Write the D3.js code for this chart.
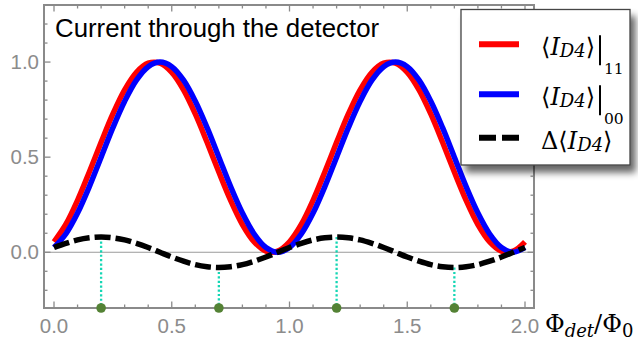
<!DOCTYPE html>
<html><head><meta charset="utf-8">
<script src="https://cdn.jsdelivr.net/npm/d3@7"></script>
<style>html,body{margin:0;padding:0;background:#fff;}svg{display:block;}</style>
</head><body>
<svg id="chart" width="638" height="347"></svg>
<script>
// ---- data ----
const xs = [0,0.05,0.10,0.15,0.20,0.25,0.30,0.35,0.40,0.45,0.50,0.55,0.60,0.65,0.70,0.75,0.80,0.85,0.90,0.95,
            1.00,1.05,1.10,1.15,1.20,1.25,1.30,1.35,1.40,1.45,1.50,1.55,1.60,1.65,1.70,1.75,1.80,1.85,1.90,1.95,2.00];
const red11 = [0.055,0.146,0.273,0.422,0.578,0.727,0.854,0.946,0.994,0.994,0.946,0.854,0.727,0.578,0.422,0.273,0.146,0.055,0.006,0.006,
               0.055,0.146,0.273,0.422,0.578,0.727,0.854,0.946,0.994,0.994,0.946,0.854,0.727,0.578,0.422,0.273,0.146,0.055,0.006,0.006,0.055];
const blue00 = [0.025,0.096,0.206,0.345,0.500,0.655,0.794,0.905,0.976,1.000,0.976,0.905,0.794,0.655,0.500,0.345,0.206,0.096,0.025,0.000,
                0.025,0.096,0.206,0.345,0.500,0.655,0.794,0.905,0.976,1.000,0.976,0.905,0.794,0.655,0.500,0.345,0.206,0.096,0.025,0.000,0.025];
const delta = [0.025,0.047,0.065,0.076,0.080,0.076,0.065,0.047,0.025,0.000,-0.025,-0.047,-0.065,-0.076,-0.080,-0.076,-0.065,-0.047,-0.025,0.000,
               0.025,0.047,0.065,0.076,0.080,0.076,0.065,0.047,0.025,0.000,-0.025,-0.047,-0.065,-0.076,-0.080,-0.076,-0.065,-0.047,-0.025,0.000,0.025];
const markX = [0.2, 0.7, 1.2, 1.7];
const markY = [0.080, -0.080, 0.080, -0.080];
const xMajor = [0, 0.5, 1.0, 1.5, 2.0];
const xMajorLabels = ["0.0","0.5","1.0","1.5","2.0"];
const yMajor = [0, 0.5, 1.0];
const yMajorLabels = ["0.0","0.5","1.0"];
const xMinor = d3.range(-0.0, 2.01, 0.1).map(v=>+v.toFixed(2)).filter(v=>Math.abs(v*2-Math.round(v*2))>1e-6);
const yMinor = d3.range(-0.2, 1.31, 0.1).map(v=>+v.toFixed(2)).filter(v=>Math.abs(v*2-Math.round(v*2))>1e-6);
const titleText = "Current through the detector";

// ---- layout ----
const L = 44, R = 534, T = 5, B = 308;
const x = d3.scaleLinear().domain([-0.0425, 2.0382]).range([L, R]);
const y = d3.scaleLinear().domain([-0.293, 1.300]).range([B, T]);

const svg = d3.select("#chart");
const frameCol = "#8a8a8a";

const defs = svg.append("defs");
const clip = defs.append("clipPath").attr("id","plotclip");
clip.append("rect").attr("x",L).attr("y",T).attr("width",R-L).attr("height",B-T);
const f = defs.append("filter").attr("id","shadow").attr("x","-20%").attr("y","-20%").attr("width","150%").attr("height","150%");
f.append("feGaussianBlur").attr("in","SourceAlpha").attr("stdDeviation",3.5).attr("result","blur");
f.append("feOffset").attr("in","blur").attr("dx",5).attr("dy",7).attr("result","off");
f.append("feComponentTransfer").attr("in","off").attr("result","sh").append("feFuncA").attr("type","linear").attr("slope",0.6);
const m = f.append("feMerge"); m.append("feMergeNode").attr("in","sh"); m.append("feMergeNode").attr("in","SourceGraphic");

// zero line
svg.append("line").attr("x1",L).attr("x2",R).attr("y1",y(0)).attr("y2",y(0))
  .attr("stroke","#9a9a9a").attr("stroke-width",1.2);

const plot = svg.append("g").attr("clip-path","url(#plotclip)");
const line = (arr) => d3.line().x((d,i)=>x(xs[i])).y(d=>y(d)).curve(d3.curveCatmullRom)(arr);

plot.append("path").attr("d",line(red11)).attr("fill","none").attr("stroke","#ff0000").attr("stroke-width",5.5);
plot.append("path").attr("d",line(blue00)).attr("fill","none").attr("stroke","#0000ff").attr("stroke-width",5.5);

// dotted drop lines
plot.selectAll("line.drop").data(markX).join("line").attr("class","drop")
  .attr("x1",d=>x(d)).attr("x2",d=>x(d))
  .attr("y1",(d,i)=>y(markY[i])).attr("y2",y.range()[0])
  .attr("stroke","#14d6b4").attr("stroke-width",2.3).attr("stroke-dasharray","2.2,2.2");

plot.append("path").attr("d",line(delta)).attr("fill","none").attr("stroke","#000").attr("stroke-width",5.5)
  .attr("stroke-dasharray","16,5");

// frame
svg.append("rect").attr("x",L).attr("y",T).attr("width",R-L).attr("height",B-T)
  .attr("fill","none").attr("stroke",frameCol).attr("stroke-width",2);

const tk = svg.append("g").attr("stroke",frameCol).attr("stroke-width",1.3);
const MJ = 6.5, MN = 3.5;
xMajor.forEach(v=>{ tk.append("line").attr("x1",x(v)).attr("x2",x(v)).attr("y1",B).attr("y2",B-MJ);
                    tk.append("line").attr("x1",x(v)).attr("x2",x(v)).attr("y1",T).attr("y2",T+MJ); });
xMinor.forEach(v=>{ tk.append("line").attr("x1",x(v)).attr("x2",x(v)).attr("y1",B).attr("y2",B-MN);
                    tk.append("line").attr("x1",x(v)).attr("x2",x(v)).attr("y1",T).attr("y2",T+MN); });
yMajor.forEach(v=>{ tk.append("line").attr("y1",y(v)).attr("y2",y(v)).attr("x1",L).attr("x2",L+MJ);
                    tk.append("line").attr("y1",y(v)).attr("y2",y(v)).attr("x1",R).attr("x2",R-MJ); });
yMinor.forEach(v=>{ tk.append("line").attr("y1",y(v)).attr("y2",y(v)).attr("x1",L).attr("x2",L+MN);
                    tk.append("line").attr("y1",y(v)).attr("y2",y(v)).attr("x1",R).attr("x2",R-MN); });

// dots
svg.selectAll("circle.mk").data(markX).join("circle").attr("class","mk")
  .attr("cx",d=>x(d)).attr("cy",B).attr("r",4.8).attr("fill","#548235");

// tick labels
const lblFont = "'Liberation Sans', Arial, sans-serif";
svg.selectAll("text.xl").data(xMajor).join("text").attr("class","xl")
  .attr("x",d=>x(d)).attr("y",333).attr("text-anchor","middle")
  .attr("font-family",lblFont).attr("font-size",20.5).attr("fill","#8c8c8c")
  .text((d,i)=>xMajorLabels[i]);
svg.selectAll("text.yl").data(yMajor).join("text").attr("class","yl")
  .attr("x",39).attr("y",d=>y(d)+7).attr("text-anchor","end")
  .attr("font-family",lblFont).attr("font-size",20.5).attr("fill","#8c8c8c")
  .text((d,i)=>yMajorLabels[i]);

// title
svg.append("text").attr("x",55).attr("y",36.5).attr("font-family",lblFont).attr("font-size",25.8)
  .attr("fill","#000").text(titleText);

// axis label
const serif = "'DejaVu Serif', 'Liberation Serif', serif";
const ax = svg.append("text").attr("x",545).attr("y",332).attr("font-family",serif).attr("font-size",24).attr("fill","#000");
ax.append("tspan").text("Φ");
ax.append("tspan").attr("font-style","italic").attr("font-size",18).attr("dy",5).text("det");
ax.append("tspan").attr("dy",-5).text("/Φ");
ax.append("tspan").attr("font-size",18).attr("dy",5).text("0");

// legend
const lg = svg.append("g");
lg.append("rect").attr("x",461).attr("y",9.5).attr("width",169).attr("height",155.5)
  .attr("fill","#fff").attr("stroke","#444").attr("stroke-width",1.3).attr("filter","url(#shadow)");
const rows = [
  {col:"#ff0000", dash:null, sub:"11", pre:""},
  {col:"#0000ff", dash:null, sub:"00", pre:""},
  {col:"#000", dash:"17,6", sub:null, pre:"Δ"}
];
const rowY = [44.3, 94.3, 137.7];
rows.forEach((r,i)=>{
  const yy = rowY[i];
  lg.append("line").attr("x1",479).attr("x2",519).attr("y1",yy).attr("y2",yy)
    .attr("stroke",r.col).attr("stroke-width",6).attr("stroke-dasharray",r.dash);
  const t = lg.append("text").attr("x",541).attr("y",yy+11).attr("font-family",serif).attr("font-size",24).attr("fill","#000");
  if (r.pre) t.append("tspan").text(r.pre);
  t.append("tspan").text("⟨");
  t.append("tspan").attr("font-style","italic").text("I");
  t.append("tspan").attr("font-style","italic").attr("font-size",18).attr("dy",2).text("D4");
  t.append("tspan").attr("dy",-2).text("⟩");
  if (r.sub) {
    lg.append("line").attr("x1",600).attr("x2",600).attr("y1",yy-9).attr("y2",yy+21).attr("stroke","#000").attr("stroke-width",2);
    lg.append("text").attr("x",604).attr("y",yy+30).attr("font-family",serif).attr("font-size",15.5).attr("fill","#000").text(r.sub);
  }
});
</script>
</body></html>
